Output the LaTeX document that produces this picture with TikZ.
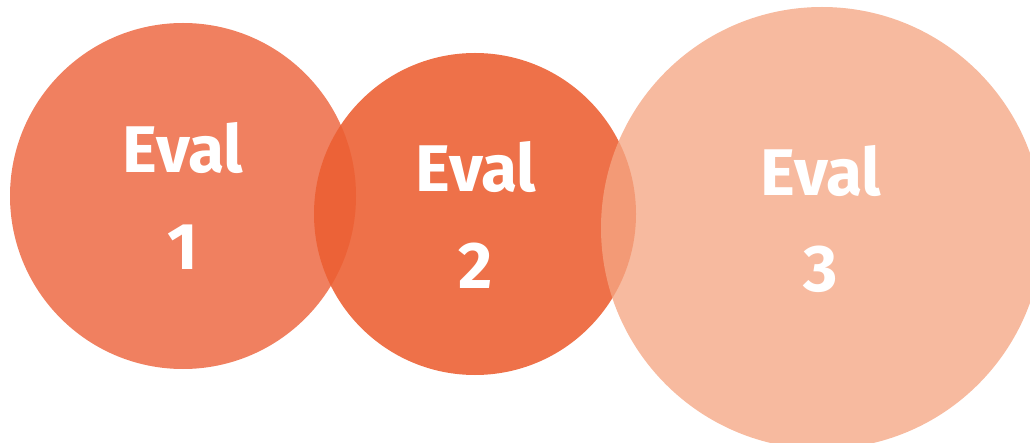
\documentclass[tikz,border=0pt]{standalone}
\usepackage{fontspec}
\setmainfont{Fira Sans}
\begin{document}
\begin{tikzpicture}[x=1pt,y=-1pt,
  lbl/.style={text=white,font=\fontsize{66}{66}\selectfont\bfseries,anchor=base,inner sep=0pt}]
\definecolor{cA}{HTML}{F08060}
\definecolor{cB}{HTML}{EC5F32}
\definecolor{cC}{HTML}{F5A784}
\useasboundingbox (0,0) rectangle (1030,443);
\begin{scope}
\clip (0,0) rectangle (1030,443);
\fill[cA] (183,196) circle (173);
\fill[cB,opacity=0.89] (475,214) circle (161);
\fill[cC,opacity=0.78] (822,228) circle (221);
\end{scope}
\node[lbl] (e1) at (183,173) {Eval};
\node[lbl] (n1) at (183,270) {1};
\node[lbl] (e2) at (476,192) {Eval};
\node[lbl] (n2) at (476,289) {2};
\node[lbl] (e3) at (821,196) {Eval};
\node[lbl] (n3) at (821,292) {3};
\end{tikzpicture}
\end{document}
